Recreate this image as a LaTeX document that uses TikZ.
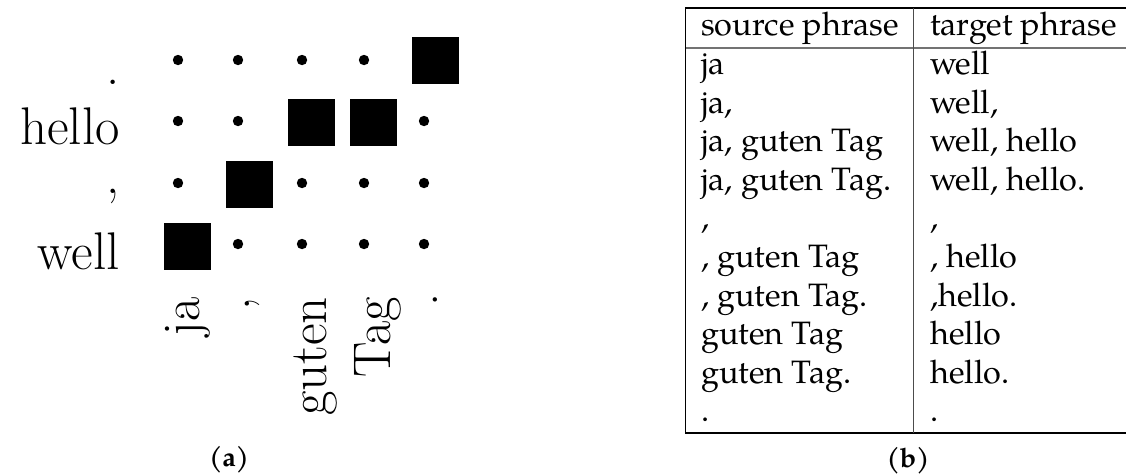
\documentclass[tikz,border=0pt]{standalone}
\usepackage{fontspec}
\newfontfamily\pagella{texgyrepagella-regular.otf}
\newfontfamily\pagellabold{texgyrepagella-bold.otf}
\begin{document}
\begin{tikzpicture}[x=1pt,y=-1pt,
  gridlabel/.style={font=\fontsize{53}{60}\selectfont, inner sep=0pt, anchor=base east},
  collabel/.style={gridlabel, rotate=90},
  hit/.style={rectangle, fill=black, inner sep=0pt, minimum size=47pt},
  cell/.style={font=\pagella\fontsize{32.4}{37.5}\selectfont, inner sep=0pt, anchor=base west},
  subcap/.style={font=\pagellabold\fontsize{27}{30}\selectfont, inner sep=0pt},
  rule/.style={line width=1.2pt},
  headrule/.style={line width=2pt, draw=black!55}
]
\useasboundingbox (0,0) rectangle (1126,475);

% ---------- (a) alignment grid ----------
% target words (rows)
\node[gridlabel] (t-dot)   at (120,84)  {.};
\node[gridlabel] (t-hello) at (120,144) {hello};
\node[gridlabel] (t-comma) at (120,193) {,};
\node[gridlabel] (t-well)  at (120,269) {well};

% source words (columns), read bottom to top
\node[collabel] (s-ja)    at (199,297) {ja};
\node[collabel] (s-comma) at (249,297) {,};
\node[collabel] (s-guten) at (326,297) {guten};
\node[collabel] (s-tag)   at (390,297) {Tag};
\node[collabel] (s-dot)   at (437,293) {.};

% unaligned cells
\foreach \n/\x/\y in {d11/178/60, d12/238/60, d13/302/60, d14/364/60,
                      d21/178/121, d22/238/121, d25/424/121,
                      d31/178/183, d33/302/183, d34/364/183, d35/424/183,
                      d42/238/244, d43/302/244, d44/364/244, d45/424/244}
  \fill (\x,\y) circle[radius=5.2pt] coordinate (\n);

% word alignments
\node[hit] (a15) at (435.5,60) {};
\node[hit] (a23) at (311.5,122.5) {};
\node[hit] (a24) at (373.5,122.5) {};
\node[hit] (a32) at (249.5,184) {};
\node[hit] (a41) at (187.5,246) {};

\node[subcap] (cap-a) at (229,460) {(a)};

% ---------- (b) extracted phrase pairs ----------
\coordinate (tl) at (685,8);
\coordinate (tr) at (1126,8);
\coordinate (hl) at (685,48);
\coordinate (hr) at (1126,48);
\coordinate (bl) at (685,433);
\coordinate (br) at (1126,433);
\coordinate (mt) at (913,8);
\coordinate (mb) at (913,433);

\draw[rule] (tl) -- (tr);
\draw[headrule] (hl) -- (hr);
\draw[rule] (bl) -- (br);
\draw[line width=1pt] (tl) -- (bl);
\draw[line width=1pt, draw=black!70] (mt) -- (mb);

\node[cell] (h-src) at (701,35) {source phrase};
\node[cell] (h-tgt) at (930,35) {target phrase};

\node[cell] (src1)  at (701,74.5)  {ja};
\node[cell] (tgt1)  at (930,74.5)  {well};
\node[cell] (src2)  at (701,113.1) {ja,};
\node[cell] (tgt2)  at (930,113.1) {well,};
\node[cell] (src3)  at (701,151.7) {ja, guten Tag};
\node[cell] (tgt3)  at (930,151.7) {well, hello};
\node[cell] (src4)  at (701,190.3) {ja, guten Tag.};
\node[cell] (tgt4)  at (930,190.3) {well, hello.};
\node[cell] (src5)  at (701,228.9) {,};
\node[cell] (tgt5)  at (930,228.9) {,};
\node[cell] (src6)  at (701,267.5) {, guten Tag};
\node[cell] (tgt6)  at (930,267.5) {, hello};
\node[cell] (src7)  at (701,306.1) {, guten Tag.};
\node[cell] (tgt7)  at (930,306.1) {,hello.};
\node[cell] (src8)  at (701,344.7) {guten Tag};
\node[cell] (tgt8)  at (930,344.7) {hello};
\node[cell] (src9)  at (701,383.3) {guten Tag.};
\node[cell] (tgt9)  at (930,383.3) {hello.};
\node[cell] (src10) at (701,421.9) {.};
\node[cell] (tgt10) at (930,421.9) {.};

\node[subcap] (cap-b) at (908,461) {(b)};
\end{tikzpicture}
\end{document}
